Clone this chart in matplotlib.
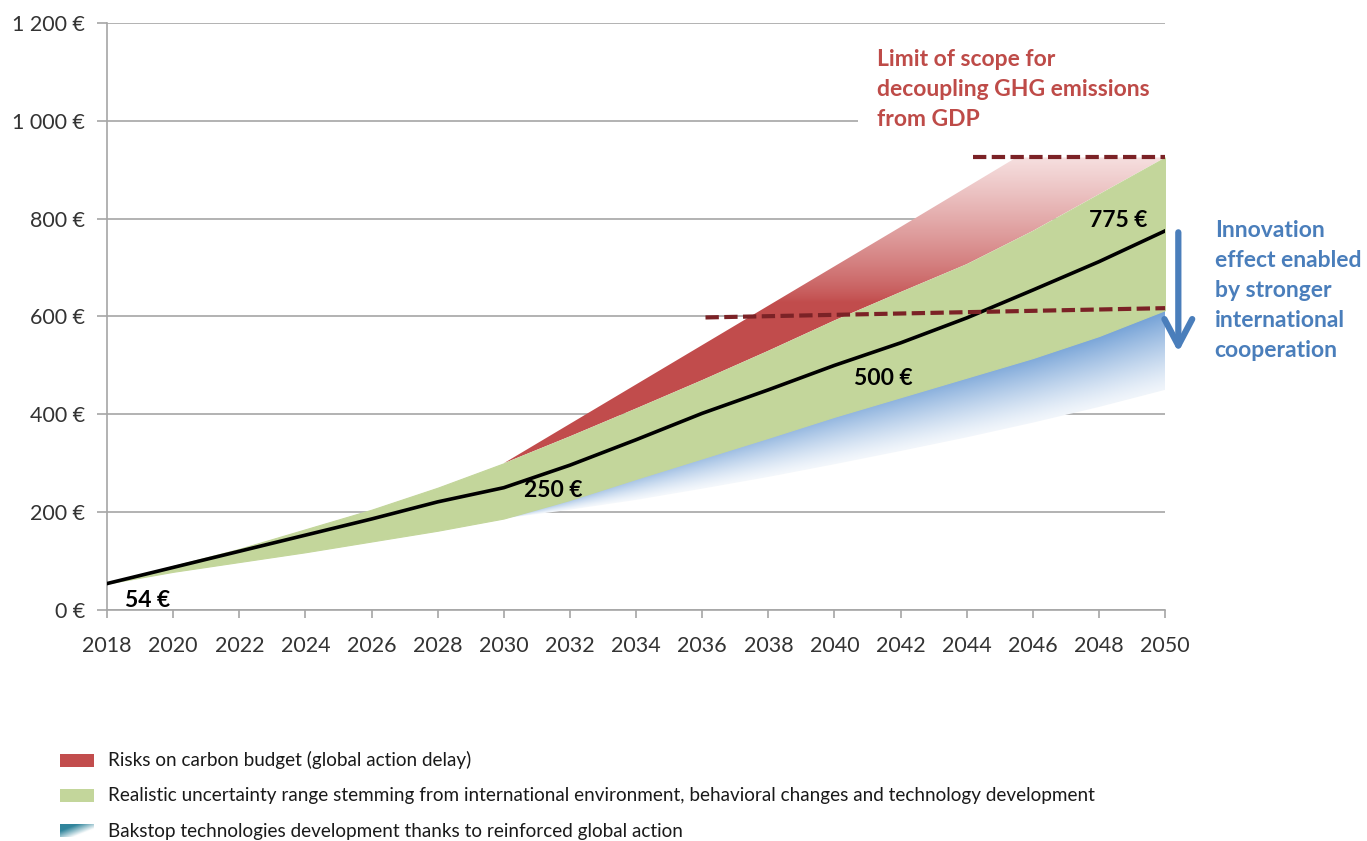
import numpy as np
import matplotlib
matplotlib.use('Agg')
import matplotlib.pyplot as plt
from matplotlib.patches import Rectangle

plt.rcParams['font.family'] = ['Lato', 'DejaVu Sans']

# ---------------- data ----------------
years = list(range(2018, 2051, 2))
central = [54, 87, 120, 153, 186, 221, 250, 296, 348, 402, 450, 500, 546, 597, 654, 712, 775]
green_upper = [54, 90, 125, 165, 205, 250, 300, 355, 412, 470, 530, 592, 650, 707, 775, 850, 925]
green_lower = [54, 78, 98, 118, 140, 162, 187, 225, 268, 310, 352, 395, 435, 475, 515, 560, 613]
years_late = list(range(2030, 2051, 2))
red_years = [2030, 2034, 2038, 2042, 2045.5, 2050]
red_upper = [300, 461, 622, 783, 925, 925]
blue_lower = [187, 205, 225, 248, 272, 298, 325, 353, 383, 415, 450]

limit_high_x = [2044.2, 2050]
limit_high_y = [925, 925]
limit_low_x = [2036.1, 2050]
limit_low_y = [598, 617]

value_labels = ['54 €', '250 €', '500 €', '775 €']
value_label_x = [2018.55, 2030.6, 2040.6, 2047.7]
value_label_y = [20, 245, 474, 797]

ytick_vals = [0, 200, 400, 600, 800, 1000, 1200]
xtick_vals = list(range(2018, 2051, 2))

legend_labels = ['Risks on carbon budget (global action delay)',
                 'Realistic uncertainty range stemming from international environment, behavioral changes and technology development',
                 'Bakstop technologies development thanks to reinforced global action']

RED = np.array([0.76, 0.30, 0.30])
PINK = np.array([0.97, 0.89, 0.89])
GREEN = '#C3D69B'
BLUE = np.array([0.45, 0.63, 0.84])
DASH = '#7B2226'
LIMIT_COLOR = '#BE4B48'
INNOV_COLOR = '#4A7EBB'

# ---------------- figure ----------------
fig = plt.figure(figsize=(13.67, 8.41), dpi=100)
ax = fig.add_axes([0.0783, 0.2747, 0.774, 0.698])
ax.set_xlim(2018, 2050)
ax.set_ylim(0, 1200)

ax.set_yticks(ytick_vals)
ax.set_yticklabels([f"{v:,}".replace(',', ' ') + ' €' for v in ytick_vals])
ax.set_xticks(xtick_vals)
ax.set_xticklabels([str(x) for x in xtick_vals])
ax.yaxis.grid(True, color='#a6a6a6', lw=1.2)
ax.set_axisbelow(True)
for s in ['top', 'right']:
    ax.spines[s].set_visible(False)
for s in ['left', 'bottom']:
    ax.spines[s].set_color('#a6a6a6')
    ax.spines[s].set_linewidth(1.2)
ax.tick_params(axis='y', length=7, color='#a6a6a6', width=1.2, labelsize=15.5, labelcolor='#333333', pad=9)
ax.tick_params(axis='x', length=6, color='#a6a6a6', width=1.2, labelsize=15.5, labelcolor='#333333', pad=13)

# red band with vertical gradient (polygon on union of knots so it follows the green edge exactly)
rx = np.union1d(years_late, red_years)
red_lo = np.interp(rx, years, green_upper)
red_hi = np.interp(rx, red_years, red_upper)
red_poly = ax.fill_between(rx, red_lo, red_hi, facecolor='none', lw=0, zorder=2)
ny = 300
yy = np.linspace(280, 940, ny)
t = np.clip((yy - 630) / (935 - 630), 0, 1) ** 0.8
col = (1 - t)[:, None] * RED[None, :] + t[:, None] * PINK[None, :]
img = np.repeat(col[:, None, :], 10, axis=1)
im = ax.imshow(img, extent=[2029, 2051, 280, 940], origin='lower', aspect='auto', zorder=2.5, interpolation='bilinear')
im.set_clip_path(red_poly.get_paths()[0], transform=ax.transData)

# blue band with gradient
gl_late = green_lower[6:]
blue_poly = ax.fill_between(years_late, blue_lower, gl_late, facecolor='none', lw=0, zorder=2)
X = np.linspace(2029, 2051, 400)
Y = np.linspace(150, 660, 300)
XX, YY = np.meshgrid(X, Y)
lo = np.interp(XX, years_late, blue_lower)
hi = np.interp(XX, years_late, gl_late)
tt = np.clip((YY - lo) / np.maximum(hi - lo, 1), 0, 1)
w = (0.1 + 0.9 * tt ** 1.2) * (0.55 + 0.45 * np.clip((XX - 2030) / 20, 0, 1))
bimg = (1 - w)[..., None] * np.ones(3) + w[..., None] * BLUE
imb = ax.imshow(bimg, extent=[2029, 2051, 150, 660], origin='lower', aspect='auto', zorder=2.5, interpolation='bilinear')
imb.set_clip_path(blue_poly.get_paths()[0], transform=ax.transData)

# green band (on top so the seams are hidden)
ax.fill_between(years, green_lower, green_upper, color=GREEN, lw=0.8, edgecolor=GREEN, zorder=3)

# central line
ax.plot(years, central, color='black', lw=2.6, zorder=5)

# dashed limit lines
ax.plot(limit_high_x, limit_high_y, color=DASH, lw=3, ls=(0, (3.2, 1.3)), zorder=6, clip_on=False)
ax.plot(limit_low_x, limit_low_y, color=DASH, lw=3, ls=(0, (3.2, 1.3)), zorder=6, clip_on=False)

# value labels
for txt, x, y in zip(value_labels, value_label_x, value_label_y):
    ax.text(x, y, txt, fontsize=16.5, fontweight='bold', color='black', va='center', ha='left', zorder=7)

# white box behind the limit text
ax.add_patch(Rectangle((2040.7, 985), 9.6, 190, facecolor='white', edgecolor='none', zorder=1.5, clip_on=False))
ax.text(2041.3, 1147, 'Limit of scope for\ndecoupling GHG emissions\nfrom GDP', fontsize=16.5, fontweight='bold',
        color=LIMIT_COLOR, va='top', ha='left', linespacing=1.53, zorder=7)

# innovation arrow + text
ax.annotate('', xy=(2050.4, 527), xytext=(2050.4, 772),
            arrowprops=dict(arrowstyle='->,head_length=0.95,head_width=0.5', color=INNOV_COLOR, lw=4.5,
                            mutation_scale=20, shrinkA=0, shrinkB=0),
            annotation_clip=False, zorder=7)
ax.text(2051.5, 798, 'Innovation\neffect enabled\nby stronger\ninternational\ncooperation', fontsize=16.5,
        fontweight='bold', color=INNOV_COLOR, va='top', ha='left', linespacing=1.54, clip_on=False)

# ---------------- legend ----------------
lx0, lw_, lh = 60 / 1367, 34 / 1367, 13 / 841
red_y = 1 - 767 / 841
green_y = 1 - 802 / 841
blue_y = 1 - 837 / 841
fig.patches.append(Rectangle((lx0, red_y), lw_, lh, transform=fig.transFigure, facecolor=RED, edgecolor='none'))
fig.patches.append(Rectangle((lx0, green_y), lw_, lh, transform=fig.transFigure, facecolor=GREEN, edgecolor='none'))
lax = fig.add_axes([lx0, blue_y, lw_, lh])
gx, gy = np.meshgrid(np.linspace(0, 1, 60), np.linspace(0, 1, 20))
d = np.clip((gx - (1 - gy)) * 1.2 + 0.5, 0, 1)
teal = np.array([0.19, 0.52, 0.61])
gimg = (1 - d)[..., None] * teal + d[..., None] * np.ones(3)
lax.imshow(gimg, origin='upper', aspect='auto', extent=[0, 1, 0, 1])
lax.axis('off')

text_x = 108 / 1367
for lab, yc in zip(legend_labels, [760, 796, 831]):
    fig.text(text_x, 1 - yc / 841, lab, fontsize=13.6, color='#1a1a1a', va='center', ha='left')

fig.savefig('out.png', dpi=100)
